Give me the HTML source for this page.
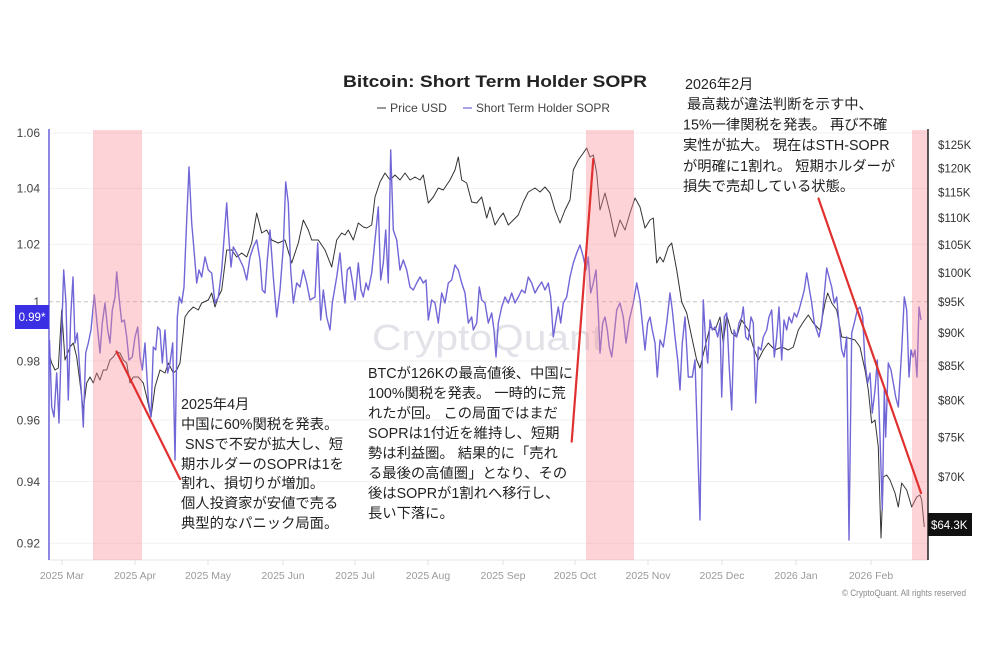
<!DOCTYPE html>
<html>
<head>
<meta charset="utf-8">
<style>
html,body{margin:0;padding:0;background:#fff;}
svg{display:block;}
text{font-family:"Liberation Sans","Noto Sans CJK JP",sans-serif;}
</style>
</head>
<body>
<svg width="990" height="660" viewBox="0 0 990 660" xmlns="http://www.w3.org/2000/svg">
<rect x="0" y="0" width="990" height="660" fill="#fff"/>

<!-- title & legend -->
<text x="343" y="87" font-size="17" font-weight="bold" fill="#222" textLength="304" lengthAdjust="spacingAndGlyphs">Bitcoin: Short Term Holder SOPR</text>
<line x1="377" y1="108" x2="386" y2="108" stroke="#555" stroke-width="1.2"/>
<text x="390" y="112" font-size="12" fill="#444" textLength="57" lengthAdjust="spacingAndGlyphs">Price USD</text>
<line x1="463" y1="108" x2="472" y2="108" stroke="#6f64d6" stroke-width="1.2"/>
<text x="476" y="112" font-size="12" fill="#444" textLength="134" lengthAdjust="spacingAndGlyphs">Short Term Holder SOPR</text>

<!-- watermark -->
<text x="372" y="350" font-size="36" fill="#e2e2e9" textLength="231" lengthAdjust="spacingAndGlyphs">CryptoQuant</text>

<!-- gridlines -->
<g stroke="#f1f1f1" stroke-width="1">
<line x1="49" y1="133" x2="928" y2="133"/>
<line x1="49" y1="188.5" x2="928" y2="188.5"/>
<line x1="49" y1="244.3" x2="928" y2="244.3"/>
<line x1="49" y1="361" x2="928" y2="361"/>
<line x1="49" y1="420" x2="928" y2="420"/>
<line x1="49" y1="481.5" x2="928" y2="481.5"/>
<line x1="49" y1="543.3" x2="928" y2="543.3"/>
</g>
<line x1="49" y1="301.7" x2="928" y2="301.7" stroke="#c4c4c4" stroke-width="1" stroke-dasharray="4,3"/>

<!-- bottom axis -->
<line x1="49" y1="560" x2="928" y2="560" stroke="#e6e6e6" stroke-width="1"/>
<g stroke="#e0e0e0" stroke-width="1">
<line x1="62" y1="560" x2="62" y2="565"/>
<line x1="135" y1="560" x2="135" y2="565"/>
<line x1="208" y1="560" x2="208" y2="565"/>
<line x1="283" y1="560" x2="283" y2="565"/>
<line x1="355" y1="560" x2="355" y2="565"/>
<line x1="428" y1="560" x2="428" y2="565"/>
<line x1="503" y1="560" x2="503" y2="565"/>
<line x1="575" y1="560" x2="575" y2="565"/>
<line x1="648" y1="560" x2="648" y2="565"/>
<line x1="722" y1="560" x2="722" y2="565"/>
<line x1="796" y1="560" x2="796" y2="565"/>
<line x1="871" y1="560" x2="871" y2="565"/>
</g>
<g font-size="10.5" fill="#9a9a9a" text-anchor="middle">
<text x="62" y="579">2025 Mar</text>
<text x="135" y="579">2025 Apr</text>
<text x="208" y="579">2025 May</text>
<text x="283" y="579">2025 Jun</text>
<text x="355" y="579">2025 Jul</text>
<text x="428" y="579">2025 Aug</text>
<text x="503" y="579">2025 Sep</text>
<text x="575" y="579">2025 Oct</text>
<text x="648" y="579">2025 Nov</text>
<text x="722" y="579">2025 Dec</text>
<text x="796" y="579">2026 Jan</text>
<text x="871" y="579">2026 Feb</text>
</g>

<!-- price line -->
<polyline fill="none" stroke="#333" stroke-width="1" stroke-linejoin="round" points="49.5,355 51.7,363 55,370 58.3,368 61.7,310 65,360 70,347 73.3,343 76.7,357 80,383 83.3,410 86.7,383 90,377 93.3,383 96.7,373 100,380 103.3,370 106.7,370 110,360 113.3,357 116.7,352 120,353 123.3,360 126.7,363 130,383 133.3,377 138.3,377 143.3,383 146.7,397 151,417 155,387 160,370 165,373 168.3,363 173.3,373 176.7,370 180,363 185,317 188.3,312 193.3,307 198.3,310 201.7,303 208.3,300 211.7,293 215,307 218.3,297 221.7,290 226.7,250 231.7,250 236.7,257 241.7,253 246.7,257 251.7,243 256.7,213 261.7,233 266.7,230 271.7,240 278.3,243 285,240 291.7,263 298.3,243 303.3,220 308.3,230 311.7,240 318.3,240 325,250 331.7,267 336.7,240 341.7,233 345,235 348.3,230 353.3,240 358.3,223 363.3,227 366.7,228 371.7,225 375,197 380,182 385,173 390,180 395,175 400,180 405,173 410,180 415,177 420,180 423.3,175 428.3,203 433.3,197 438.3,188 443.3,190 450,180 455,170 458.3,157 461.7,180 466.7,183 471.7,202 476.7,203 481.7,197 486.7,218 490,207 495,225 500,217 503.3,213 508.3,225 513.3,220 518.3,215 523.3,202 528.3,192 535,188 540,192 545,187 550,193 555,210 560,223 565,210 570,200 573.3,170 578.3,160 583.3,153 586.7,148 590,157 593.3,155 596.7,173 600,210 605,193 610,213 615,237 620,220 625,230 630,213 635,198 640,207 645,228 650,220 653.3,218 656.7,263 660,257 663.3,262 668.3,247 671.7,243 676.7,270 681.7,302 686.7,313 691.7,337 696.7,360 700,368 705,347 710,327 715,330 720,317 723.3,343 726.7,315 731.7,333 736.7,337 741.7,320 748.3,330 753.3,347 758.3,360 763.3,350 768.3,343 775,350 781.7,347 788.3,350 793.3,347 798.3,330 803.3,322 808.3,315 813.3,323 820,330 825,303 827.7,293 831.7,303 836.7,310 841.7,337 848.3,338 855,340 860,347 865,370 868.3,390 871.7,423 875,420 878.3,447 881,538 883.3,477 886.7,475 890,480 895,493 898.3,507 901.7,483 906.7,490 911.7,507 916.7,497 920,495 921.7,500 924.3,527"/>

<!-- SOPR line -->
<polyline fill="none" stroke="#7166d6" stroke-width="1.4" stroke-linejoin="round" points="49.5,340 51.7,407 54,417 56.7,373 59,423 61.7,330 63.7,270 66,303 68.3,400 70.7,317 73,277 75,343 77.3,333 79.3,363 81.7,397 83.3,427 85.7,353 88.3,343 91,330 94.3,295 97.7,330 100,353 102.3,323 105,303 107.7,330 110,343 112.3,310 115,297 116.7,272 119,297 121.7,322 124.3,320 126.7,337 129,360 132.3,357 135,337 137.7,327 140,357 142.3,370 145,343 148.3,400 151,417 153.3,347 155.7,350 157.7,327 160,330 162.3,363 165,330 167.7,373 170,363 172.7,343 175,460 177.3,317 179.3,297 181.7,303 184,287 186.7,220 189,167 191.7,223 194,250 196.7,283 199,270 201.7,277 205,257 208.3,270 211.7,273 215,303 218.3,297 221.7,270 226.7,203 228.3,230 231,267 233.3,247 236.7,253 240,260 243.3,267 246.7,280 250,257 253.3,247 256.7,240 260,260 262.3,290 265,293 267.3,260 270,230 273.3,277 276.7,317 280,290 283.3,247 285.7,182 288.3,203 290.7,270 293.3,303 296.7,283 300,287 303.3,270 306.7,283 310,300 315,297 317.7,243 320.7,320 323.3,290 326.7,317 330,330 332.3,303 336.7,277 340,253 342.7,285 345,303 347.3,270 350,267 352.7,283 355,300 358.3,263 361,290 363.3,297 366,283 368.3,290 371.7,273 375,240 378.3,207 380.7,280 383.3,263 385.7,230 388.3,283 390.7,150 393.3,230 396.7,240 400,270 403.3,260 406.7,270 410,287 413.3,290 416.7,283 420,277 423.3,283 426,280 428.3,320 431.7,300 435,303 438.3,323 441.7,293 445,303 448.3,283 451.7,280 455,265 458.3,270 461.7,283 465,293 468.3,323 471.7,317 473.3,330 476.7,323 479.3,287 481.7,300 485,303 488.3,323 491.7,313 494,330 496,357 498.3,323 501.7,307 505,297 508.3,303 511.7,293 515,303 518.3,297 521.7,290 525,293 528.3,277 531.7,283 535,293 538.3,287 541.7,282 545,290 548.3,283 550.7,297 553.3,337 556,320 558.3,307 560.7,323 563.3,303 566.7,297 570,277 573.3,263 576.7,253 580,245 583.3,257 586,270 588.3,257 590.7,293 593.3,283 596,270 598.3,313 600,353 602.7,323 605,317 607.3,330 609.3,347 611.7,357 614,337 616.7,310 620,303 623.3,317 626,343 629.3,320 633.3,303 636.7,283 640,300 642.3,323 645,350 647.7,323 650,317 652.3,330 655,343 657.3,377 660,340 663.3,347 666.7,323 670,293 672.3,310 675,337 677.7,360 680,390 682.3,343 685,317 688.3,377 692.3,377 695,360 697.7,447 700,520 701.7,390 703.3,300 705.7,343 707.7,363 710,320 712.3,330 715,327 717.7,337 720,323 721.7,397 724.3,317 726.7,313 729,363 731.7,410 734,330 736.7,337 739,323 741.7,317 743.3,307 745.7,337 748.3,340 751,317 753.3,323 755.7,403 758.3,347 761,350 763.3,337 766.7,330 769,317 771.7,310 774.3,357 776.7,337 779,307 781.7,360 784,320 786.7,330 789,317 791.7,323 794.3,313 796.7,317 799,310 801.7,300 804.3,290 806.7,273 809,287 811.7,303 814.3,323 816.7,330 819,337 821.7,323 824,297 826.7,268 829,277 831.7,287 834.3,303 836.7,297 839,323 841.7,350 844,357 846.7,337 849,540 851.7,333 853.3,327 855,320 857.3,310 860,307 862.7,317 865,363 867.7,383 870,373 872.3,413 875,390 877.3,360 880,437 882.3,510 884.3,390 885.7,437 888.3,363 891,370 893.3,383 895.7,397 898.3,407 901.7,350 904.3,297 906.7,310 909,377 911,350 913,357 915,350 917,377 919,307 921,320"/>

<!-- pink bands -->
<g fill="rgba(250,140,150,0.38)">
<rect x="93" y="130" width="49" height="430"/>
<rect x="586" y="130" width="48" height="430"/>
<rect x="912" y="130" width="16" height="430"/>
</g>

<!-- axes lines -->
<line x1="49" y1="129" x2="49" y2="560" stroke="#6a60d8" stroke-width="1.5"/>
<line x1="928" y1="129" x2="928" y2="560" stroke="#222" stroke-width="1.5"/>

<!-- left labels -->
<g font-size="12" fill="#444" text-anchor="end">
<text x="40" y="137">1.06</text>
<text x="40" y="192.6">1.04</text>
<text x="40" y="248.6">1.02</text>
<text x="40" y="306">1</text>
<text x="40" y="365.3">0.98</text>
<text x="40" y="424.3">0.96</text>
<text x="40" y="486">0.94</text>
<text x="40" y="547.6">0.92</text>
</g>
<rect x="15" y="305" width="34" height="24" fill="#3b2fe3"/>
<text x="32" y="321" font-size="11.5" fill="#fff" text-anchor="middle">0.99*</text>

<!-- right labels -->
<g font-size="11.5" fill="#333">
<text x="938" y="149">$125K</text>
<text x="938" y="172.4">$120K</text>
<text x="938" y="196.7">$115K</text>
<text x="938" y="222.2">$110K</text>
<text x="938" y="248.8">$105K</text>
<text x="938" y="276.8">$100K</text>
<text x="938" y="306.1">$95K</text>
<text x="938" y="337.1">$90K</text>
<text x="938" y="369.8">$85K</text>
<text x="938" y="404.6">$80K</text>
<text x="938" y="441.5">$75K</text>
<text x="938" y="481">$70K</text>
</g>
<rect x="928" y="513" width="44" height="23" fill="#111"/>
<text x="931" y="529" font-size="11.5" fill="#fff">$64.3K</text>

<!-- red annotation lines -->
<g stroke="#e0302f" stroke-width="2.2" stroke-linecap="round">
<line x1="116.5" y1="351.5" x2="180" y2="479"/>
<line x1="593.3" y1="159" x2="571.7" y2="441.7"/>
<line x1="818.5" y1="198.5" x2="921" y2="493"/>
</g>

<!-- annotations -->
<g font-size="14.3" fill="#222">
<text x="181" y="409">2025年4月</text>
<text x="181" y="429">中国に60%関税を発表。</text>
<text x="185" y="449">SNSで不安が拡大し、短</text>
<text x="181" y="469">期ホルダーのSOPRは1を</text>
<text x="181" y="488">割れ、損切りが増加。</text>
<text x="181" y="508">個人投資家が安値で売る</text>
<text x="181" y="528">典型的なパニック局面。</text>

<text x="368" y="378">BTCが126Kの最高値後、中国に</text>
<text x="368" y="398">100%関税を発表。 一時的に荒</text>
<text x="368" y="418">れたが回。 この局面ではまだ</text>
<text x="368" y="438">SOPRは1付近を維持し、短期</text>
<text x="368" y="458">勢は利益圏。 結果的に「売れ</text>
<text x="368" y="478">る最後の高値圏」となり、その</text>
<text x="368" y="498">後はSOPRが1割れへ移行し、</text>
<text x="368" y="518">長い下落に。</text>

<text x="685" y="89">2026年2月</text>
<text x="687" y="109">最高裁が違法判断を示す中、</text>
<text x="683" y="129.5">15%一律関税を発表。 再び不確</text>
<text x="683" y="150">実性が拡大。 現在はSTH-SOPR</text>
<text x="683" y="171">が明確に1割れ。 短期ホルダーが</text>
<text x="683" y="191">損失で売却している状態。</text>
</g>

<!-- copyright -->
<text x="842" y="596" font-size="9" fill="#888" textLength="124" lengthAdjust="spacingAndGlyphs">© CryptoQuant. All rights reserved</text>
</svg>
</body>
</html>
